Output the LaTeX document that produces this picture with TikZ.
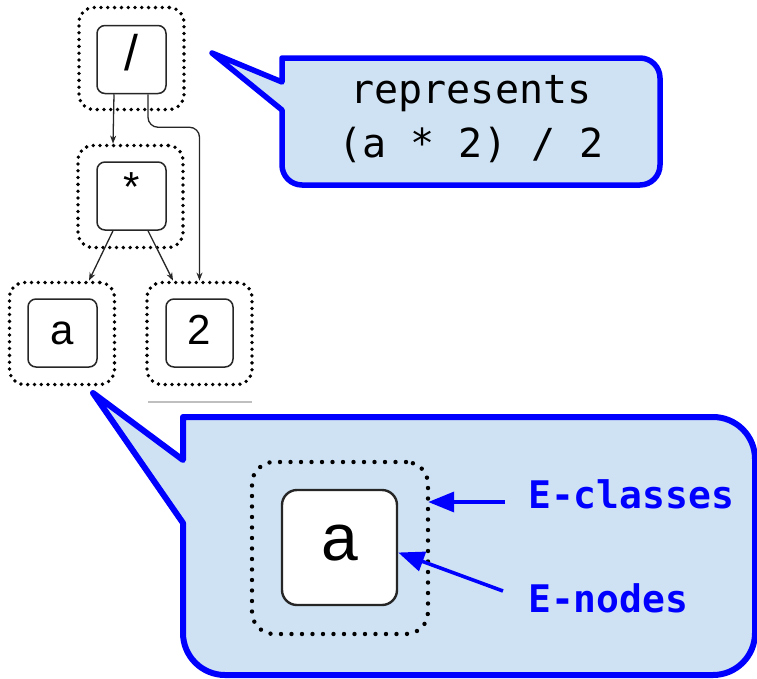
\documentclass[tikz,border=0pt]{standalone}
\usepackage{fontspec}
\usetikzlibrary{arrows.meta}
\newfontfamily\nodefont{Liberation Sans}
\newfontfamily\monofont{DejaVu Sans Mono}
\definecolor{calloutfill}{RGB}{207,226,243}
\definecolor{calloutline}{RGB}{0,0,255}

\begin{document}
\begin{tikzpicture}[x=1pt, y=-1pt,
  eclass/.style = {draw=black, line width=3.8pt, dash pattern=on 0pt off 6.8pt, line cap=round,
    rounded corners=15pt, minimum width=105pt, minimum height=102pt, inner sep=0pt},
  enode/.style = {draw=black!85, line width=1.5pt, fill=white, rounded corners=8pt,
    minimum width=69pt, minimum height=68pt, inner sep=0pt,
    font=\nodefont\fontsize{42}{42}\selectfont, text height=30pt, text depth=8pt},
  bigclass/.style = {eclass, line width=4.4pt, dash pattern=on 0pt off 10.5pt,
    rounded corners=22pt, minimum width=176pt, minimum height=172pt},
  bignode/.style = {enode, line width=2.4pt, rounded corners=15pt,
    minimum width=115pt, minimum height=115pt,
    font=\nodefont\fontsize{66}{66}\selectfont, text height=45pt, text depth=20pt},
  edge/.style = {-{Stealth[length=8pt,width=6pt]}, line width=1.3pt, black!85},
  callout/.style = {fill=calloutfill, draw=calloutline, line width=5.5pt, line join=round},
  pointer/.style = {calloutline, line width=3.6pt, -{Triangle[length=26pt,width=20pt]}},
  tag/.style = {anchor=west, inner sep=0pt, text=calloutline,
    font=\monofont\bfseries\fontsize{38}{38}\selectfont}]
  \useasboundingbox (0,0) rectangle (757,678);

  % e-graph
  \node[eclass] (divcls) at (131.5,58.5) {};
  \node[enode, font=\nodefont\fontsize{50}{50}\selectfont] (div) at (131.5,59.5) {/};
  \node[eclass] (mulcls) at (130.5,196.5) {};
  \node[enode, text height=18pt] (mul) at (131.5,196) {*};
  \node[eclass] (acls) at (62,333.5) {};
  \node[enode] (a) at (62.5,333) {a};
  \node[eclass] (twocls) at (199.5,333.5) {};
  \node[enode, minimum width=67pt] (two) at (199.5,333) {2};
  \draw[black!25, line width=1.5pt] (148,402) -- (252,402);

  \draw[edge] ([xshift=-17.5pt]div.south) -- ([xshift=-17.5pt]mulcls.north);
  \draw[edge, rounded corners=10pt] ([xshift=16.5pt]div.south) -- ++(0,33) -| (twocls.north);
  \draw[edge] ([xshift=-18.5pt]mul.south) -- ([xshift=27pt]acls.north);
  \draw[edge] ([xshift=16.5pt]mul.south) -- ([xshift=-26.5pt]twocls.north);

  % callouts
  \path[callout] (212,53) -- (282,82) -- (282,58) [rounded corners=20pt] -- (660,58)
    -- (660,185) -- (282,185) [sharp corners] -- (282,110) -- cycle;
  \node[align=center, inner sep=0pt, font=\monofont\fontsize{40}{54}\selectfont]
    (expr) at (471,119) {represents\\(a * 2) / 2};

  \path[callout, line width=6pt] (93,393) -- (183,460) -- (183,417) [rounded corners=42pt] -- (755,417)
    -- (755,675) -- (183,675) [sharp corners] -- (183,523) -- cycle;
  \node[bigclass] (zoomcls) at (340,548) {};
  \node[bignode] (zooma) at (339.5,547.5) {a};
  \node[tag] (clstag) at (528,494) {E-classes};
  \node[tag] (nodetag) at (528,598) {E-nodes};
  \draw[pointer] ([shift={(-23,8)}]clstag.west) -- ([shift={(-2,8)}]clstag.west -| zoomcls.east);
  \draw[pointer] ([shift={(-25,-7)}]nodetag.west) -- ([shift={(0,5)}]zooma.east);
\end{tikzpicture}
\end{document}
